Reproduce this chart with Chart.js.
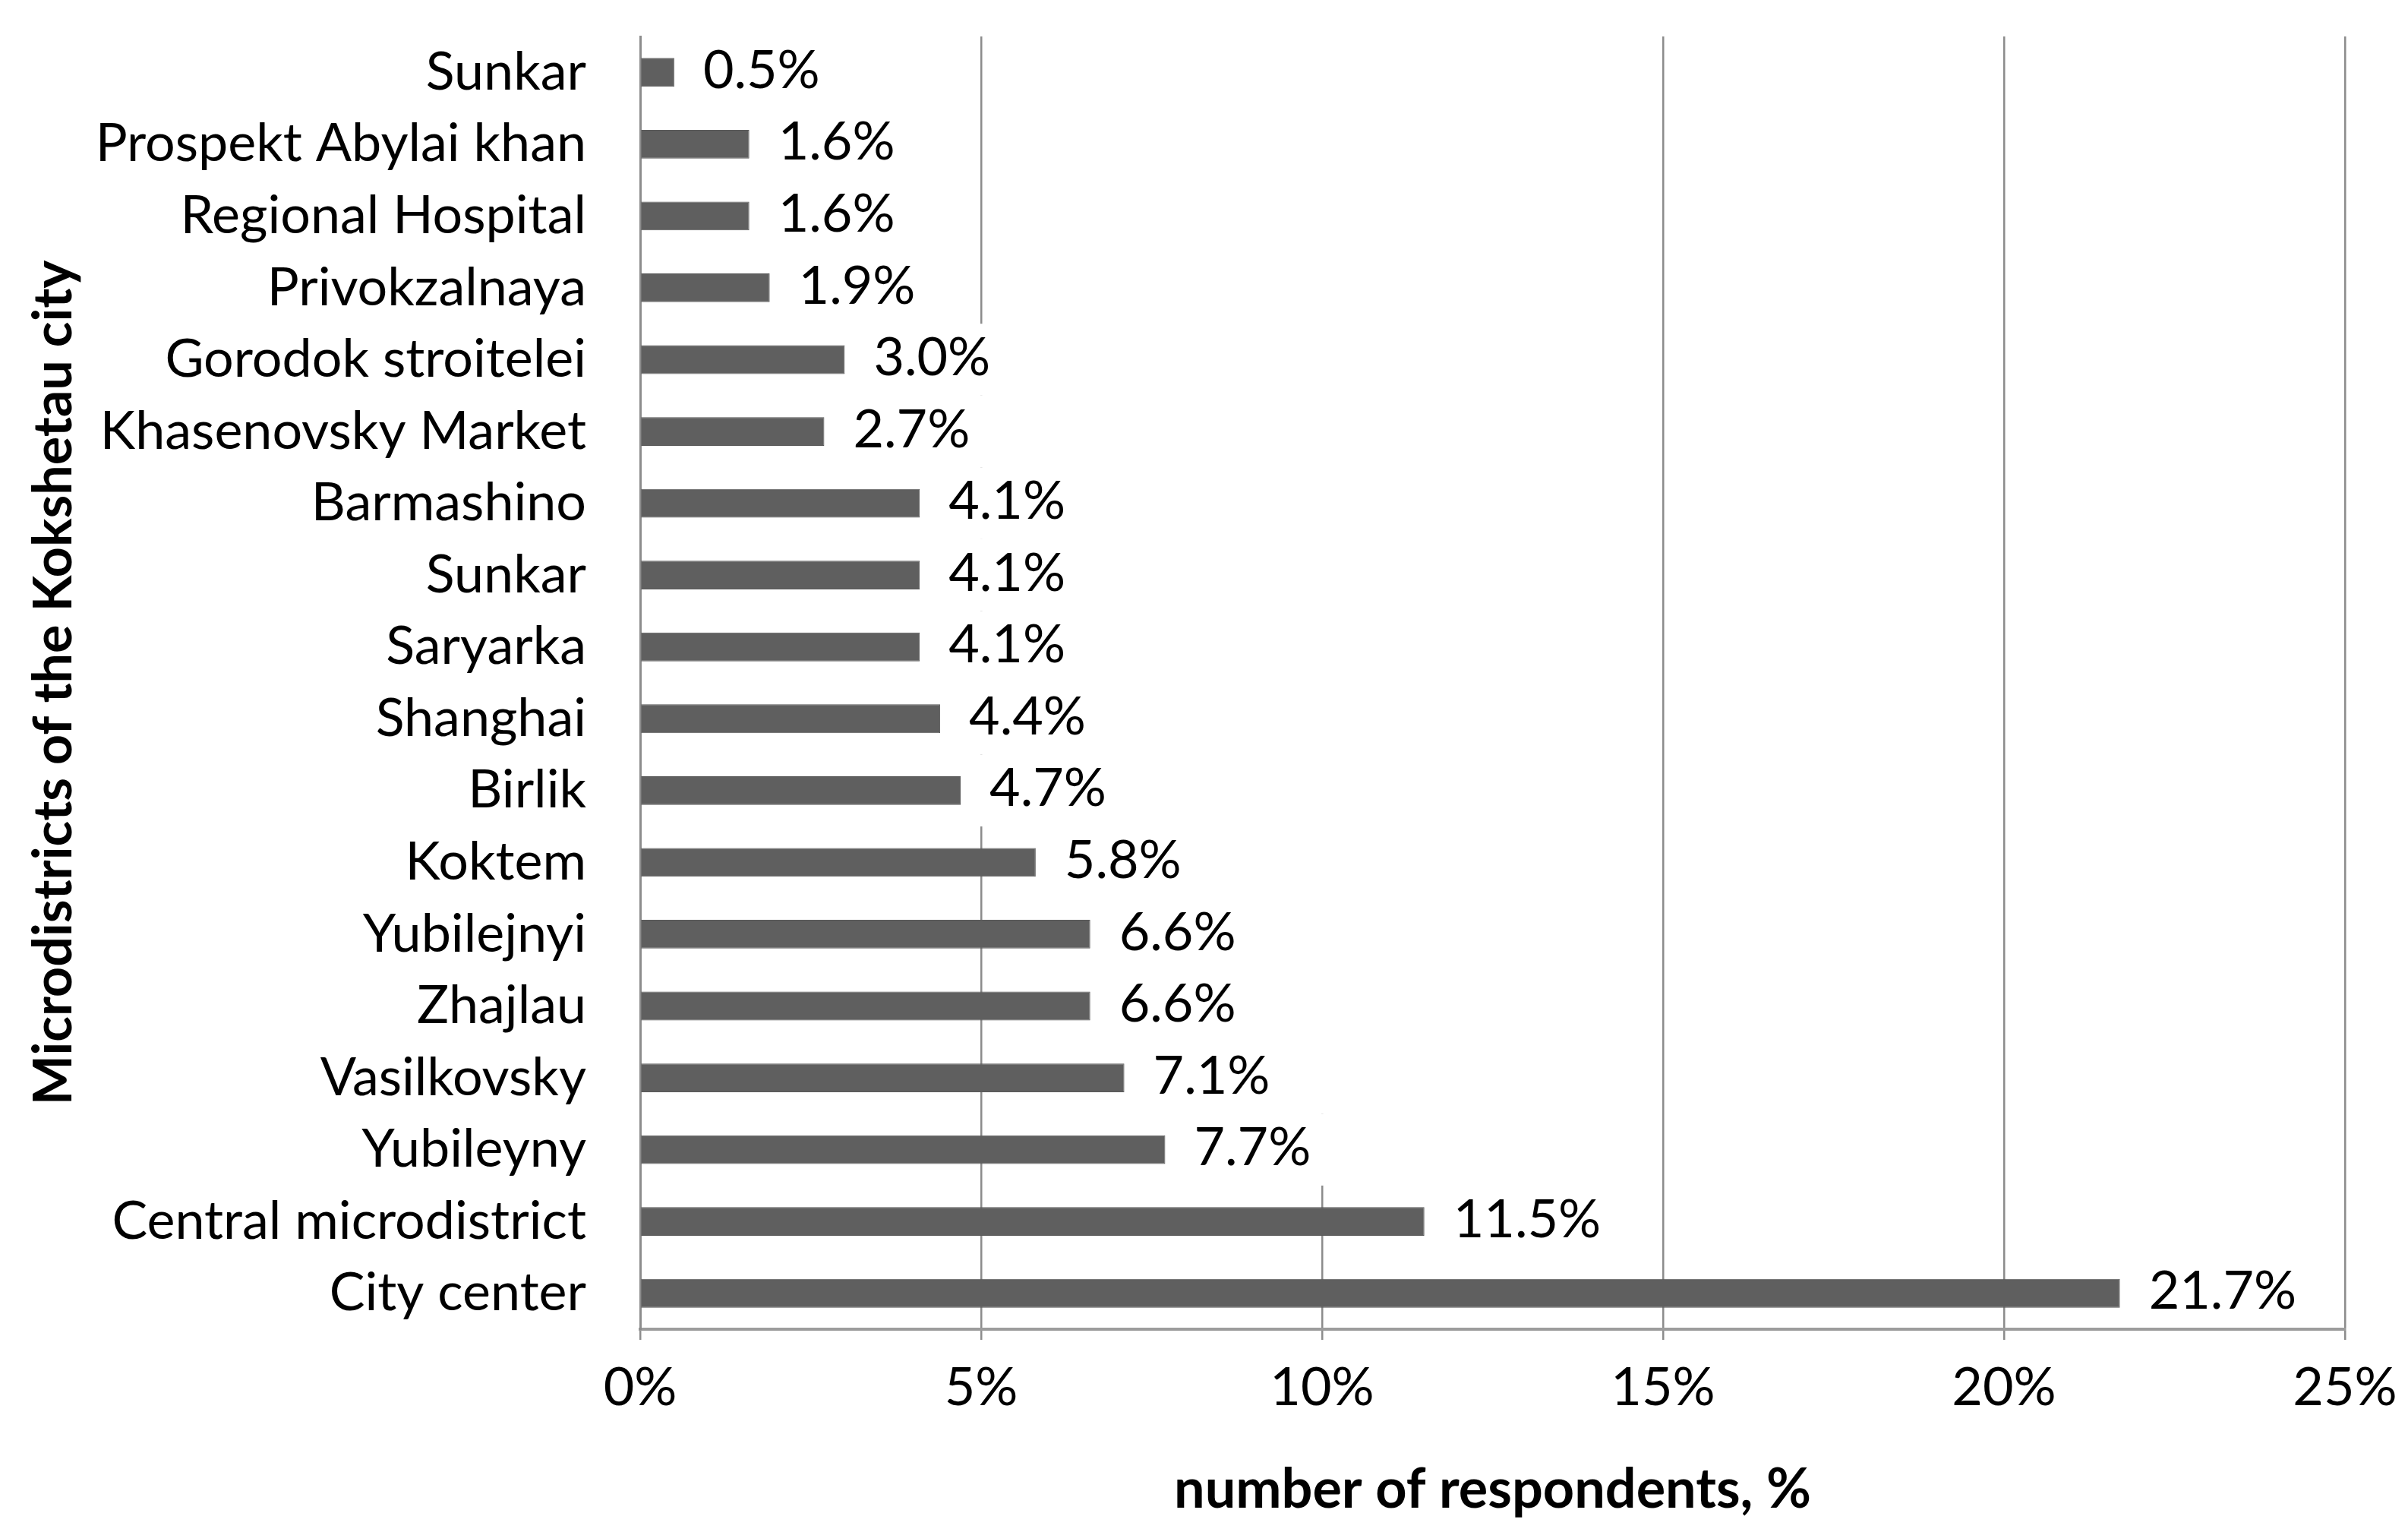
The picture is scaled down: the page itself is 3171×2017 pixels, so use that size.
<!DOCTYPE html>
<html>
<head>
<meta charset="utf-8">
<script src="https://cdn.jsdelivr.net/npm/chart.js@4"></script>
<style>
  html, body { margin: 0; padding: 0; background: #fff; }
  #wrap { width: 3171px; height: 2017px; }
</style>
</head>
<body>
<div id="wrap"><canvas id="districtChart" width="3171" height="2017"></canvas></div>
<script>
// values (share of respondents, %)
const districts = [
    'Sunkar', 'Prospekt Abylai khan', 'Regional Hospital', 'Privokzalnaya',
    'Gorodok stroitelei', 'Khasenovsky Market', 'Barmashino', 'Sunkar',
    'Saryarka', 'Shanghai', 'Birlik', 'Koktem', 'Yubilejnyi', 'Zhajlau',
    'Vasilkovsky', 'Yubileyny', 'Central microdistrict', 'City center'
];
const shares = [0.5, 1.6, 1.6, 1.9, 3.0, 2.7, 4.1, 4.1, 4.1, 4.4, 4.7, 5.8, 6.6, 6.6, 7.1, 7.7, 11.5, 21.7];
const xTicks = [0, 5, 10, 15, 20, 25];

const FONT = 'Lato';
const SIZE = 70;

// the 10% gridline is missing above the Yubileyny row in the original
const gridMask = {
    id: 'gridMask',
    beforeDatasetsDraw(chart) {
        const { ctx, chartArea } = chart;
        const x = chart.scales.x.getPixelForValue(10);
        const y = chart.scales.y;
        const band = y.getPixelForValue(1) - y.getPixelForValue(0);
        ctx.save();
        ctx.fillStyle = '#fff';
        ctx.fillRect(x - 3, chartArea.top, 6, y.getPixelForValue(14) + band / 2 - chartArea.top);
        ctx.restore();
    }
};

// value labels with white boxes (they hide the gridline behind them)
const valueLabels = {
    id: 'valueLabels',
    afterDatasetsDraw(chart) {
        const { ctx, chartArea } = chart;
        const meta = chart.getDatasetMeta(0);
        const y = chart.scales.y;
        const band = y.getPixelForValue(1) - y.getPixelForValue(0);
        ctx.save();
        ctx.font = SIZE + 'px ' + FONT;
        ctx.textBaseline = 'middle';
        ctx.textAlign = 'left';
        meta.data.forEach((bar, i) => {
            const text = shares[i].toFixed(1) + '%';
            const w = ctx.measureText(text).width;
            const tx = bar.x + 38;
            const top = Math.max(bar.y - band / 2, chartArea.top);
            const bottom = Math.min(bar.y + band / 2, chartArea.bottom - 4);
            ctx.fillStyle = '#fff';
            ctx.fillRect(tx - 20, top, w + 37, bottom - top);
            ctx.fillStyle = '#000';
            ctx.fillText(text, tx, bar.y - 2);
        });
        ctx.restore();
    }
};

const ctx = document.getElementById('districtChart').getContext('2d');
const districtChart = new Chart(ctx, {
    type: 'bar',
    data: {
        labels: districts,
        datasets: [{
            data: shares,
            backgroundColor: '#5f5f5f',
            borderColor: '#585858',
            borderWidth: 1,
            barPercentage: 0.4,
            categoryPercentage: 1.0
        }]
    },
    options: {
        indexAxis: 'y',
        responsive: false,
        animation: false,
        devicePixelRatio: 1,
        layout: { padding: { top: 48, right: 83, bottom: 0, left: 0 } },
        plugins: {
            legend: { display: false },
            tooltip: { enabled: false }
        },
        scales: {
            x: {
                min: 0,
                max: 25,
                afterBuildTicks(scale) {
                    scale.ticks = xTicks.map(v => ({ value: v }));
                },
                afterFit(scale) {
                    scale.height = 267;
                    scale.paddingLeft = 0;
                    scale.paddingRight = 0;
                },
                grid: {
                    color: '#8c8c8c',
                    lineWidth: 2.5,
                    drawTicks: true,
                    tickLength: 14
                },
                border: { display: true, color: '#9c9c9c', width: 4 },
                ticks: {
                    padding: 21,
                    color: '#000',
                    font: { family: FONT, size: SIZE },
                    callback: v => v + '%'
                },
                title: {
                    display: true,
                    text: 'number of respondents, %',
                    color: '#000',
                    font: { family: FONT, size: 72, weight: 'bold' },
                    padding: { top: 0, bottom: 12 }
                }
            },
            y: {
                afterFit(scale) {
                    scale.width = 843;
                    scale.paddingTop = 0;
                    scale.paddingBottom = 0;
                },
                grid: { display: false, drawTicks: false, tickLength: 0 },
                border: { display: true, color: '#8c8c8c', width: 3 },
                ticks: {
                    padding: 71,
                    color: '#000',
                    font: { family: FONT, size: SIZE }
                },
                title: {
                    display: true,
                    text: 'Microdistricts of the Kokshetau city',
                    color: '#000',
                    font: { family: FONT, size: 70, weight: 'bold' },
                    padding: { top: 29, bottom: 0 }
                }
            }
        }
    },
    plugins: [gridMask, valueLabels]
});
</script>
</body>
</html>
